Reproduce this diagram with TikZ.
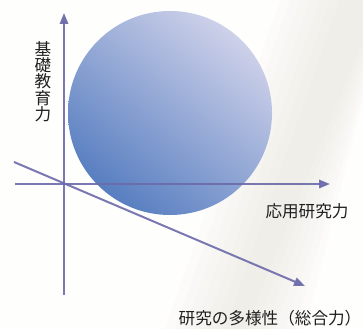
\documentclass[tikz,border=0pt]{standalone}
\usepackage{fontspec}
\newfontfamily\jp{Noto Sans CJK JP}
\usetikzlibrary{arrows.meta,shadings}
\definecolor{axiscol}{HTML}{6C6AAA}
\definecolor{balldark}{HTML}{3F6DB8}
\definecolor{balllight}{HTML}{E6E2F2}
\definecolor{streak}{HTML}{E2DDCF}
\tikzset{
  axis/.style={draw=axiscol, line width=2pt, -{Triangle[length=11pt,width=8.5pt]}},
  lab/.style={font=\jp\fontsize{16.6}{16.4}\selectfont, text=black!88, inner sep=0pt},
}
\begin{document}
\begin{tikzpicture}[x=1pt,y=-1pt]
\useasboundingbox (0,0) rectangle (363,329);
\fill[white!97!streak] (0,0) rectangle (363,329);
% faint background streak
\foreach \w in {70,60,50,40,30,20,10}{
  \fill[streak, opacity=0.07] (350-\w,0) -- (363,0) -- (363,30+\w) -- (235+\w,329) -- (235-\w,329) -- cycle;
}
% ball
\shade[lower left=balldark, upper right=balllight, upper left=balllight!55!balldark, lower right=balllight!45!balldark]
  (170,113) circle[radius=102];
% axes
\coordinate (vs) at (64,295);
\coordinate (vt) at (64,13);
\coordinate (hs) at (15,184);
\coordinate (ht) at (330,184);
\coordinate (ds) at (14,162);
\coordinate (dt) at (305,286);
\draw[axis, opacity=0.9] (vs) -- (vt);
\draw[axis, opacity=0.9] (hs) -- (ht);
\draw[axis, opacity=0.9] (ds) -- (dt);
% labels
\node[lab, align=center, anchor=north] (ylab) at (43,41) {基\\礎\\教\\育\\力};
\node[lab, anchor=center] (xlab) at (307,211) {応用研究力};
\node[lab, anchor=center] (zlab) at (270,318) {研究の多様性（総合力）};
\end{tikzpicture}
\end{document}
